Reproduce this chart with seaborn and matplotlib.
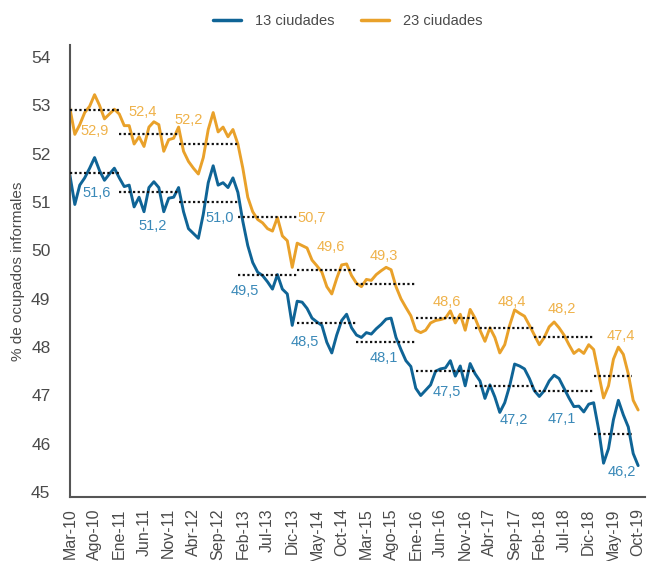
import pandas as pd
import matplotlib.pyplot as plt
import seaborn as sns

sns.set_theme(style="white")
plt.rcParams['font.family'] = ['Liberation Sans', 'DejaVu Sans']

BLUE = "#0f6496"
ORANGE = "#e9a12a"
BLUE_TXT = "#3a89b8"
ORANGE_TXT = "#efb24a"
GREY = "#4a4a4a"

# monthly series, Mar-10 .. Oct-19
ciudades_13 = [
    51.56, 50.95, 51.35, 51.50, 51.70, 51.92, 51.65, 51.45, 51.58, 51.70,
    51.50, 51.32, 51.35, 50.90, 51.10, 50.80, 51.30, 51.42, 51.30, 50.80,
    51.08, 51.10, 51.30, 50.80, 50.45, 50.35, 50.25, 50.75, 51.40, 51.75,
    51.35, 51.40, 51.30, 51.50, 51.20, 50.60, 50.10, 49.75, 49.55, 49.48,
    49.35, 49.20, 49.50, 49.20, 49.10, 48.45, 48.95, 48.93, 48.80, 48.60,
    48.52, 48.45, 48.10, 47.88, 48.25, 48.55, 48.68, 48.40, 48.25, 48.20,
    48.30, 48.27, 48.38, 48.47, 48.58, 48.60, 48.20, 47.95, 47.72, 47.60,
    47.15, 47.00, 47.11, 47.22, 47.50, 47.55, 47.57, 47.72, 47.40, 47.61,
    47.20, 47.66, 47.45, 47.30, 46.94, 47.22, 46.97, 46.65, 46.85, 47.20,
    47.65, 47.61, 47.55, 47.35, 47.10, 46.98, 47.10, 47.30, 47.42, 47.35,
    47.15, 46.95, 46.77, 46.78, 46.66, 46.82, 46.85, 46.30, 45.60, 45.90,
    46.50, 46.90, 46.60, 46.35, 45.80, 45.55,
]
ciudades_23 = [
    52.94, 52.40, 52.60, 52.85, 52.98, 53.22, 53.00, 52.72, 52.82, 52.92,
    52.82, 52.58, 52.58, 52.20, 52.35, 52.15, 52.55, 52.66, 52.60, 52.05,
    52.29, 52.32, 52.55, 52.05, 51.84, 51.70, 51.58, 51.92, 52.50, 52.85,
    52.45, 52.55, 52.35, 52.50, 52.20, 51.70, 51.10, 50.80, 50.64, 50.57,
    50.45, 50.40, 50.68, 50.30, 50.20, 49.65, 50.15, 50.10, 50.05, 49.80,
    49.68, 49.55, 49.25, 49.10, 49.42, 49.70, 49.72, 49.48, 49.32, 49.25,
    49.40, 49.38, 49.50, 49.58, 49.65, 49.60, 49.25, 49.00, 48.82, 48.65,
    48.35, 48.30, 48.35, 48.50, 48.55, 48.57, 48.60, 48.75, 48.50, 48.68,
    48.35, 48.78, 48.60, 48.35, 48.12, 48.40, 48.20, 47.88, 48.05, 48.45,
    48.77, 48.70, 48.64, 48.45, 48.25, 48.05, 48.20, 48.42, 48.52, 48.40,
    48.25, 48.05, 47.87, 47.95, 47.87, 48.05, 47.95, 47.45, 46.95, 47.20,
    47.75, 48.00, 47.85, 47.45, 46.90, 46.70,
]

# yearly averages (2010..2019)
years = [2010, 2011, 2012, 2013, 2014, 2015, 2016, 2017, 2018, 2019]
prom_13 = [51.6, 51.2, 51.0, 49.5, 48.5, 48.1, 47.5, 47.2, 47.1, 46.2]
prom_23 = [52.9, 52.4, 52.2, 50.7, 49.6, 49.3, 48.6, 48.4, 48.2, 47.4]

tick_labels = ["Mar-10", "Ago-10", "Ene-11", "Jun-11", "Nov-11", "Abr-12",
               "Sep-12", "Feb-13", "Jul-13", "Dic-13", "May-14", "Oct-14",
               "Mar-15", "Ago-15", "Ene-16", "Jun-16", "Nov-16", "Abr-17",
               "Sep-17", "Feb-18", "Jul-18", "Dic-18", "May-19", "Oct-19"]

n = len(ciudades_13)
df = pd.DataFrame({
    "mes": list(range(n)) * 2,
    "valor": ciudades_13 + ciudades_23,
    "serie": ["13 ciudades"] * n + ["23 ciudades"] * n,
})

fig = plt.figure(figsize=(6.47, 5.61), dpi=100)
ax = fig.add_axes([0.108, 0.114, 0.889, 0.806])

sns.lineplot(data=df, x="mes", y="valor", hue="serie",
             palette={"13 ciudades": BLUE, "23 ciudades": ORANGE},
             linewidth=2.1, ax=ax, legend=False)

# year spans in month index (Mar-10 = 0)
for k, yr in enumerate(years):
    start = 0 if yr == 2010 else 10 + (yr - 2011) * 12
    end = min(10 + (yr - 2010) * 12, n - 2.2)
    for val in (prom_13[k], prom_23[k]):
        ax.hlines(val, start, end, colors="#111111", linewidth=1.6,
                  linestyles=(0, (1, 1.1)), zorder=3)

# label positions (month index, value)
pos_23 = [(5.1, 52.47), (14.7, 52.87), (24.1, 52.70), (48.9, 50.67), (52.8, 50.08),
          (63.6, 49.89), (76.3, 48.94), (89.4, 48.94), (99.6, 48.79), (111.5, 48.24)]
pos_13 = [(5.5, 51.19), (16.8, 50.51), (30.3, 50.67), (35.4, 49.16), (47.5, 48.10),
          (63.5, 47.77), (76.3, 47.07), (89.9, 46.50), (99.6, 46.52), (111.6, 45.42)]
for (x, y), v in zip(pos_23, prom_23):
    ax.text(x, y, f"{v:.1f}".replace(".", ","), color=ORANGE_TXT,
            fontsize=10.5, ha="center", va="center")
for (x, y), v in zip(pos_13, prom_13):
    ax.text(x, y, f"{v:.1f}".replace(".", ","), color=BLUE_TXT,
            fontsize=10.5, ha="center", va="center")

ax.set_xlim(0, 116.4)
ax.set_ylim(44.9, 54.25)
ax.set_xticks(range(0, n, 5))
ax.set_xticklabels(tick_labels, rotation=90, fontsize=11.5, color=GREY)
ax.set_yticks(range(45, 55))
ax.tick_params(axis="y", labelsize=12.5, labelcolor=GREY, length=0, pad=14)
ax.tick_params(axis="x", length=0, pad=8)
ax.set_xlabel("")
ax.set_ylabel("% de ocupados informales", fontsize=11, color=GREY, labelpad=4)

sns.despine(ax=ax)
for side in ("left", "bottom"):
    ax.spines[side].set_color("#555555")
    ax.spines[side].set_linewidth(1.5)

handles = [plt.Line2D([], [], color=BLUE, linewidth=2.5),
           plt.Line2D([], [], color=ORANGE, linewidth=2.5)]
fig.legend(handles, ["13 ciudades", "23 ciudades"], loc="center",
           bbox_to_anchor=(348 / 647, 1 - 21 / 561), ncol=2, frameon=False,
           fontsize=10.5, handlelength=1.9, handletextpad=1.0,
           columnspacing=1.8, labelcolor=GREY)

fig.savefig("out.png", dpi=100)
